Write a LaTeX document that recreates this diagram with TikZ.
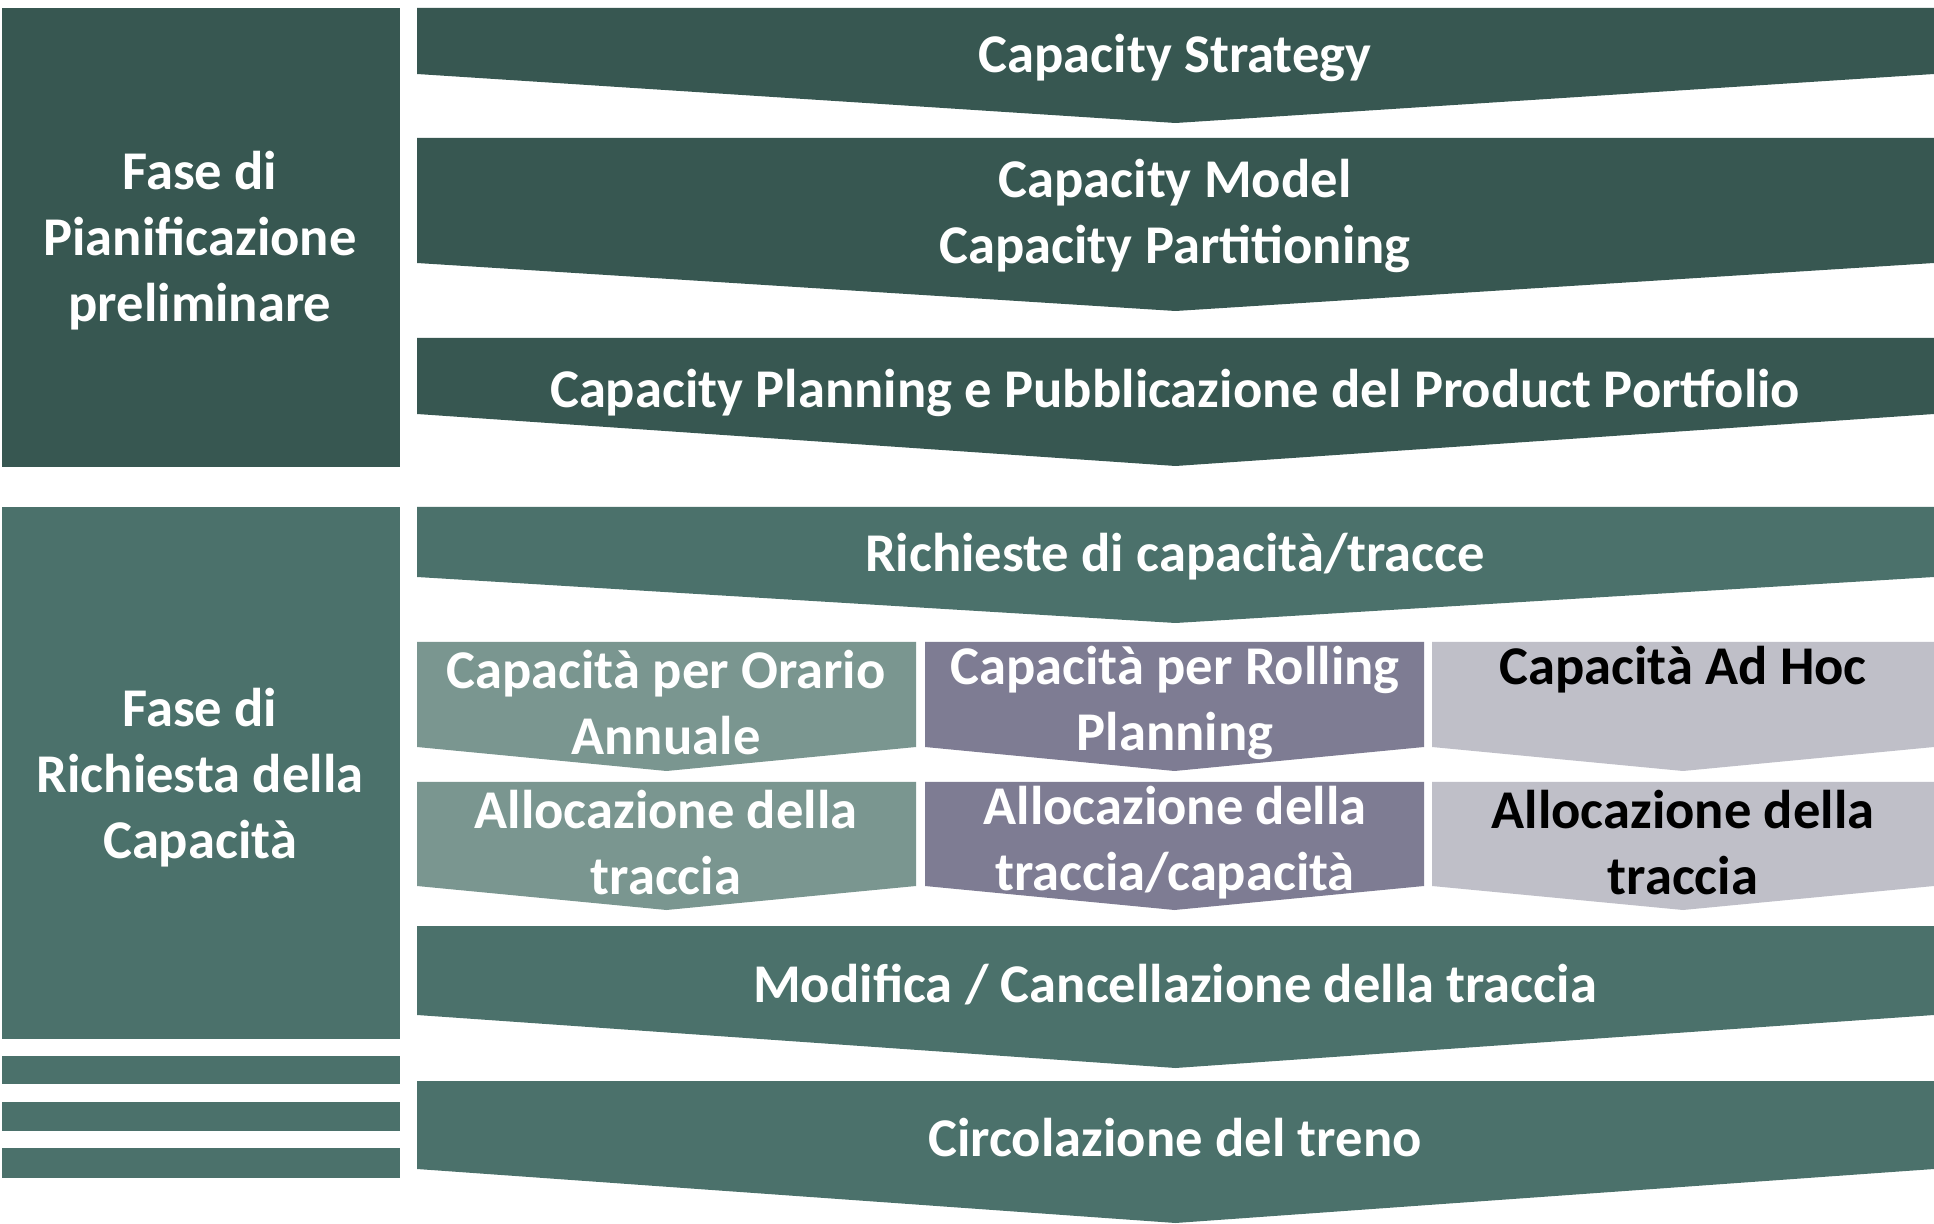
\documentclass[tikz,border=0pt]{standalone}
\usepackage{fontspec}
\setmainfont{Carlito}
\definecolor{darkA}{HTML}{375751}
\definecolor{darkB}{HTML}{4B716B}
\definecolor{colA}{HTML}{7A9690}
\definecolor{colB}{HTML}{7E7C93}
\definecolor{colC}{HTML}{BFBFC8}
\tikzset{
  lbl/.style={text=white, font=\bfseries\fontsize{27.3}{33}\selectfont, align=center, inner sep=0pt},
  lblk/.style={lbl, text=black}
}
\newcommand{\chev}[6]{% x1 x2 top side tip color
  \fill[#6] (#1,#3) -- (#2,#3) -- (#2,#4) -- ({(#1+#2)/2},#5) -- (#1,#4) -- cycle;}
\begin{document}
\begin{tikzpicture}[x=0.5pt,y=-0.5pt]
\useasboundingbox (0,0) rectangle (1934,1224);
\fill[white] (0,0) rectangle (1934,1224);
% left boxes
\fill[darkA] (2,8) rectangle (400,467);
\fill[darkB] (2,507) rectangle (400,1039);
\fill[darkB] (2,1056) rectangle (400,1084);
\fill[darkB] (2,1102) rectangle (400,1131);
\fill[darkB] (2,1148) rectangle (400,1178);
\node[lbl] (fase1) at (200,241) {Fase di\\Pianificazione\\preliminare};
\node[lbl] (fase2) at (200,778) {Fase di\\Richiesta della\\Capacità};
% big chevrons
\chev{417}{1934}{8}{74}{123}{darkA}
\chev{417}{1934}{138}{263}{311}{darkA}
\chev{417}{1934}{338}{414}{466}{darkA}
\chev{417}{1934}{507}{577}{623}{darkB}
\chev{417}{1934}{926}{1015}{1068}{darkB}
\chev{417}{1934}{1081}{1169}{1223}{darkB}
\node[lbl] (cs) at (1175,58) {Capacity Strategy};
\node[lbl] (cm) at (1175,216) {Capacity Model\\Capacity Partitioning};
\node[lbl] (cp) at (1175,393) {Capacity Planning e Pubblicazione del Product Portfolio};
\node[lbl] (rc) at (1175,557) {Richieste di capacità/tracce};
\node[lbl] (mc) at (1175,985) {Modifica / Cancellazione della traccia};
\node[lbl] (ct) at (1175,1138) {Circolazione del treno};
% small chevrons
\chev{417}{916}{642}{747}{771}{colA}
\chev{417}{916}{782}{886}{910}{colA}
\chev{925}{1424}{642}{747}{771}{colB}
\chev{925}{1424}{782}{886}{910}{colB}
\chev{1432}{1934}{642}{747}{771}{colC}
\chev{1432}{1934}{782}{886}{910}{colC}
\node[lbl] (oa) at (666,703) {Capacità per Orario\\Annuale};
\node[lbl] (rp) at (1175,703) {Capacità per Rolling\\Planning};
\node[lblk] (ah) at (1683,670) {Capacità Ad Hoc};
\node[lbl] (a1) at (666,843) {Allocazione della\\traccia};
\node[lbl] (a2) at (1175,843) {Allocazione della\\traccia/capacità};
\node[lblk] (a3) at (1683,843) {Allocazione della\\traccia};
\end{tikzpicture}
\end{document}
